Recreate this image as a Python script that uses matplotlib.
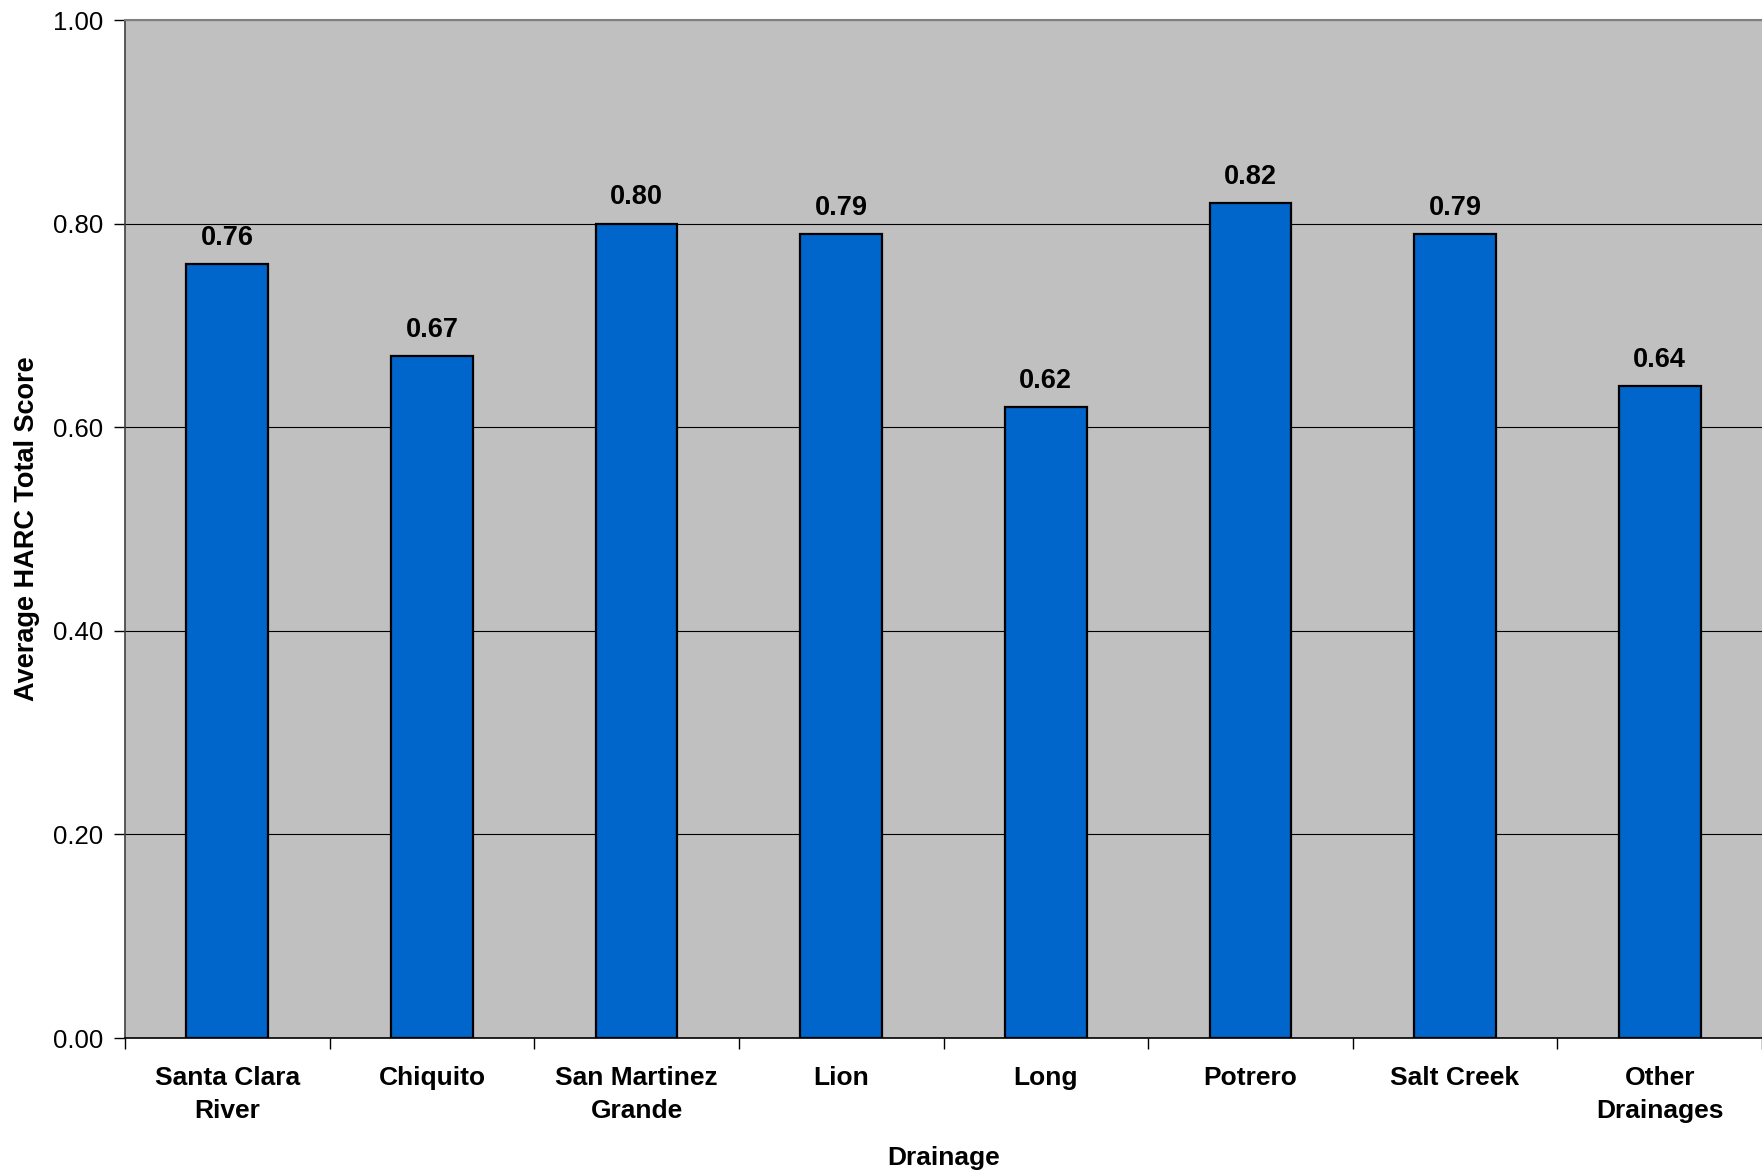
import matplotlib
matplotlib.use('Agg')
import matplotlib.pyplot as plt
import numpy as np

plt.rcParams['font.family'] = ['Liberation Sans', 'DejaVu Sans']

drainages = ['Santa Clara\nRiver', 'Chiquito', 'San Martinez\nGrande', 'Lion',
             'Long', 'Potrero', 'Salt Creek', 'Other\nDrainages']
scores = [0.76, 0.67, 0.80, 0.79, 0.62, 0.82, 0.79, 0.64]
y_ticks = [0.0, 0.2, 0.4, 0.6, 0.8, 1.0]

fig = plt.figure(figsize=(17.62, 11.73), dpi=100)
ax = fig.add_axes([125 / 1762, 1 - 1038 / 1173, 1637 / 1762, 1018 / 1173])

x = np.arange(len(drainages))
ax.set_facecolor('#C0C0C0')
ax.set_axisbelow(True)
ax.yaxis.grid(True, color='#000000', linewidth=0.8)

bars = ax.bar(x, scores, width=0.40, color='#0066CC', edgecolor='#000000',
              linewidth=1.6, zorder=3)

for bar, val in zip(bars, scores):
    ax.text(bar.get_x() + bar.get_width() / 2, val + 0.013, f'{val:.2f}',
            ha='center', va='bottom', fontsize=19.5, fontweight='bold', zorder=4)

ax.set_xlim(-0.5, len(drainages) - 0.5)
ax.set_ylim(0, 1.0)
ax.set_yticks(y_ticks)
ax.set_yticklabels([f'{t:.2f}' for t in y_ticks], fontsize=18.5)

# category labels sit between the separator ticks
ax.set_xticks(x)
ax.set_xticklabels(drainages, fontsize=19, fontweight='bold', linespacing=1.5)
ax.tick_params(axis='x', length=0, pad=20)
ax.set_xticks(np.arange(len(drainages) + 1) - 0.5, minor=True)
ax.tick_params(axis='x', which='minor', length=8, width=1, color='#000000')
ax.tick_params(axis='y', length=8, width=1, pad=8)

ax.spines['top'].set_color('#808080')
ax.spines['top'].set_linewidth(1.5)
ax.spines['right'].set_visible(False)
ax.spines['left'].set_color('#404040')
ax.spines['left'].set_linewidth(1.2)
ax.spines['bottom'].set_color('#000000')
ax.spines['bottom'].set_linewidth(1.2)

ax.set_ylabel('Average HARC Total Score', fontsize=19.5, fontweight='bold', labelpad=9)
ax.set_xlabel('Drainage', fontsize=19, fontweight='bold', labelpad=16)

fig.savefig('out.png', dpi=100)
